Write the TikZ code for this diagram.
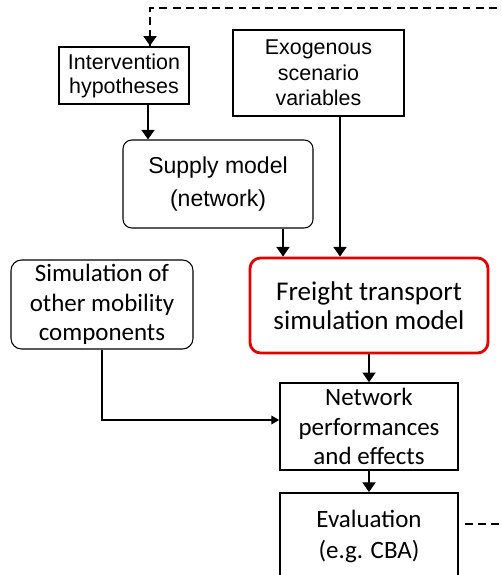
\documentclass[tikz,border=0pt]{standalone}
\usepackage{fontspec}
\setmainfont{Carlito}
\newfontfamily\arialfont{Liberation Sans}
\usetikzlibrary{positioning, arrows.meta}

\begin{document}
\begin{tikzpicture}[node distance=2cm,on grid,
    box/.style={draw, align=center, inner sep=0pt},
    rbox/.style={box, rounded corners=5pt},
    arr/.style={-{Triangle[width=7.5pt,length=5.5pt]}, line width=0.7pt},
    fb/.style={line width=1.1pt, dash pattern=on 4.5pt off 3pt}]
  \clip (0,0) rectangle (10.02,-11.5);

  \node[box, line width=1.4pt, minimum width=2.6cm, minimum height=1.14cm,
        font=\arialfont\fontsize{12.2}{13.7}\selectfont] (interv) at (2.48,-1.51)
        {Intervention\\hypotheses};
  \node[box, line width=0.9pt, minimum width=3.42cm, minimum height=1.72cm,
        font=\arialfont\fontsize{12.2}{14.5}\selectfont] (exo) at (6.37,-1.46)
        {Exogenous\\scenario\\variables};
  \node[rbox, line width=0.6pt, minimum width=3.8cm, minimum height=1.76cm,
        font=\arialfont\fontsize{13.1}{18.5}\selectfont] (supply) at (4.36,-3.68)
        {Supply model\\(network)};
  \node[rbox, rounded corners=6pt, line width=0.6pt, minimum width=3.64cm, minimum height=1.78cm,
        font=\fontsize{14.2}{16.6}\selectfont] (sim) at (2.04,-6.09)
        {Simulation of\\other mobility\\components};
  \node[rbox, rounded corners=6pt, draw=red!90!black, line width=1.6pt, minimum width=4.76cm, minimum height=1.9cm,
        font=\fontsize{15.4}{16.4}\selectfont] (freight) at (7.38,-6.11)
        {Freight transport\\simulation model};
  \node[box, line width=0.9pt, minimum width=3.56cm, minimum height=1.74cm,
        font=\fontsize{14.2}{17}\selectfont] (netw) [below=2.42cm of freight]
        {Network\\performances\\and effects};
  \node[box, line width=1.1pt, minimum width=3.56cm, minimum height=1.74cm,
        font=\fontsize{14.2}{17.5}\selectfont] (eval) [below=2.2cm of netw]
        {Evaluation\\(e.g. CBA)};

  \coordinate (fbin) at (10.2,-0.16);
  \coordinate (fbout) at (10.2,-10.48);

  % feedback loop
  \draw[fb] (fbin) -| ([xshift=0.52cm]interv.north);
  \draw[-{Triangle[width=7.5pt,length=5.5pt]}, line width=0.7pt]
    ([xshift=0.52cm,yshift=0.2cm]interv.north) -- ([xshift=0.52cm]interv.north);
  \draw[fb] ([xshift=0.12cm]eval.east |- fbout) -- (fbout);

  \draw[arr] ([xshift=0.48cm]interv.south) -- ([xshift=0.48cm]interv.south |- supply.north);
  \draw[arr] ([xshift=1.3cm]supply.south) -- ([xshift=1.3cm]supply.south |- freight.north);
  \draw[arr] ([xshift=0.43cm]exo.south) -- ([xshift=0.43cm]exo.south |- freight.north);
  \draw[arr] (freight.south) -- (netw.north);
  \draw[arr] (netw.south) -- (eval.north);
  \draw[-{Triangle[width=5pt,length=4.5pt]}, line width=0.7pt]
    (sim.south) |- ([yshift=0.13cm]netw.west);
\end{tikzpicture}
\end{document}
